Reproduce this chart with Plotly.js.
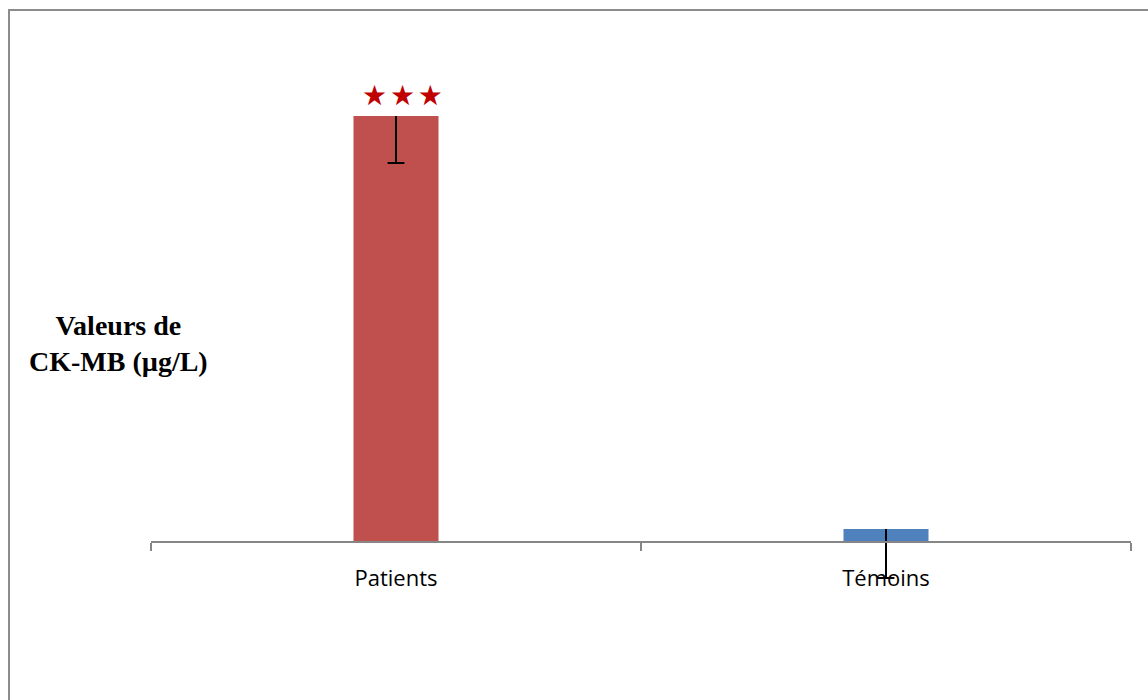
<!DOCTYPE html>
<html>
<head>
<meta charset="utf-8">
<script src="https://cdn.plot.ly/plotly-3.0.1.min.js"></script>
<style>html,body{margin:0;padding:0;background:#fff;}#chart{width:1148px;height:700px;}</style>
</head>
<body>
<div id="chart"></div>
<script>
// Data (arbitrary units; no y scale shown in the reference)
const categories = ["Patients", "Témoins"];
const values = [42.6, 1.3];
const errorsMinus = [4.7, 4.9];
const barColors = ["#C0504D", "#4F81BD"];
const significance = "★\u200A★\u200A★";
const yTitle = "Valeurs de<br>CK-MB (µg/L)";

const capY = values.map((v, i) => v - errorsMinus[i]);

const bars = {
  type: "bar",
  x: categories,
  y: values,
  width: 0.1735,
  marker: {color: barColors, line: {width: 0}},
  error_y: {
    type: "data", symmetric: false,
    array: values.map(() => 0),
    arrayminus: errorsMinus,
    color: "#000000", thickness: 2, width: 0
  },
  hoverinfo: "skip"
};

const caps = {
  type: "scatter",
  mode: "markers",
  x: categories,
  y: capY,
  marker: {symbol: "line-ew-open", size: 12, color: "#000000", line: {width: 2, color: "#000000"}},
  hoverinfo: "skip",
  cliponaxis: false
};

const layout = {
  width: 1148, height: 700,
  margin: {l: 151, r: 17, t: 42, b: 98},
  paper_bgcolor: "#ffffff", plot_bgcolor: "#ffffff",
  showlegend: false,
  xaxis: {
    type: "category",
    range: [-0.5, 1.5],
    anchor: "free",
    position: 6 / 56,
    showline: true, linecolor: "#868686", linewidth: 2,
    ticks: "outside", tickson: "boundaries", ticklen: 8, tickwidth: 2, tickcolor: "#868686",
    showgrid: false, zeroline: false,
    tickfont: {family: "Open Sans", size: 22, color: "#000000"},
    ticklabelstandoff: 17,
    fixedrange: true
  },
  yaxis: {
    range: [-6, 50],
    visible: false, showgrid: false, zeroline: false, fixedrange: true
  },
  annotations: [
    {
      xref: "x", yref: "y", x: categories[0], y: values[0],
      yanchor: "middle", yshift: 21, xshift: 6,
      text: significance, showarrow: false,
      font: {family: "DejaVu Sans", size: 28, color: "#C00000"}
    },
    {
      xref: "paper", yref: "paper", x: (118 - 151) / 980, y: (602 - 343) / 560,
      xanchor: "center", yanchor: "middle", align: "center",
      text: "<b>" + yTitle + "</b>", showarrow: false,
      font: {family: "Liberation Serif", size: 28, color: "#000000"}
    }
  ],
  shapes: [
    {
      type: "path", xref: "paper", yref: "paper",
      path: "M " + ((9 - 151) / 980) + " " + ((602 - 710) / 560) +
            " L " + ((9 - 151) / 980) + " " + ((602 - 10) / 560) +
            " L " + ((1150 - 151) / 980) + " " + ((602 - 10) / 560),
      line: {color: "#8C8C8C", width: 2}
    }
  ]
};

Plotly.newPlot("chart", [bars, caps], layout, {displayModeBar: false, staticPlot: true});
</script>
</body>
</html>
